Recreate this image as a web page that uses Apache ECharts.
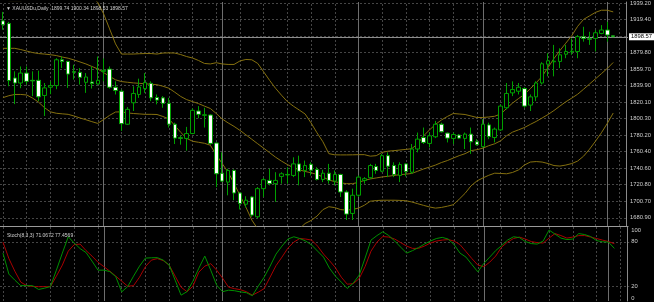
<!DOCTYPE html>
<html><head><meta charset="utf-8">
<script src="https://cdn.jsdelivr.net/npm/echarts@6/dist/echarts.min.js"></script>
<style>html,body{margin:0;padding:0;background:#000;}#c{width:654px;height:302px;}</style>
</head><body><div id="c"></div>
<script>
// ---- data ----
const symbolTitle = 'XAUUSDu,Daily';
const lastQuote = ['1899.74', '1900.34', '1898.53', '1898.57'];
const stochTitle = 'Stoch(8,3,3)';
const stochLast = ['71.0672', '77.4569'];

const tradingDays = [
  ['2021-01', '07 08 11 12 13 14 15 18 19 20 21 22 25 26 27 28 29'],
  ['2021-02', '01 02 03 04 05 08 09 10 11 12 15 16 17 18 19 22 23 24 25 26'],
  ['2021-03', '01 02 03 04 05 08 09 10 11 12 15 16 17 18 19 22 23 24 25 26 29 30 31'],
  ['2021-04', '01 05 06 07 08 09 12 13 14 15 16 19 20 21 22 23 26 27 28 29 30'],
  ['2021-05', '03 04 05 06 07 10 11 12 13 14 17 18 19 20 21 24 25 26 27 28 31'],
  ['2021-06', '01 02']
];
const categories = [];
tradingDays.forEach(([m, d]) => d.split(' ').forEach(x => categories.push(m + '-' + x)));
const futureSlots = ['2021-06-03', '2021-06-04'];

const open = [1917.7,1914.5,1849.0,1843.0,1854.9,1846.2,1846.2,1828.0,1837.9,1839.9,
 1870.9,1868.9,1856.6,1855.8,1843.8,1844.2,1841.8,1857.0,1859.7,1837.9,
 1833.1,1793.4,1819.2,1829.2,1836.3,1842.6,1825.6,1825.1,1818.5,1793.4,
 1777.1,1776.3,1782.2,1809.3,1804.1,1804.5,1770.8,1734.5,1723.8,1737.8,
 1710.7,1697.2,1705.9,1682.1,1715.9,1725.8,1721.9,1730.6,1733.0,1731.8,
 1745.7,1737.8,1745.3,1738.9,1727.0,1734.5,1725.0,1733.0,1711.9,1686.1,
 1708.0,1725.8,1729.1,1742.5,1736.9,1755.6,1743.7,1731.8,1745.7,1735.7,
 1763.6,1777.4,1770.3,1778.3,1793.4,1782.7,1776.3,1780.3,1776.3,1781.5,
 1772.3,1766.4,1792.6,1777.4,1786.6,1813.2,1831.1,1833.1,1836.3,1816.4,
 1826.3,1843.0,1865.6,1868.5,1868.9,1877.6,1880.4,1880.8,1898.7,1896.3,
 1896.6,1902.6,1906.7,1899.74];
const close = [1913.0,1845.9,1843.0,1854.9,1845.0,1845.5,1826.3,1837.1,1839.9,1870.9,
 1868.9,1853.7,1856.0,1849.8,1850.2,1842.3,1846.2,1858.2,1837.9,1833.9,
 1794.1,1811.3,1830.4,1838.2,1843.5,1825.1,1822.4,1818.5,1793.4,1776.7,
 1776.4,1782.2,1810.1,1805.3,1804.8,1770.3,1733.8,1725.0,1737.8,1710.7,
 1698.1,1702.0,1684.1,1715.9,1726.7,1721.9,1725.8,1733.8,1732.4,1745.7,
 1736.9,1743.7,1738.1,1727.0,1734.5,1725.8,1733.0,1711.9,1685.3,1708.0,
 1729.8,1727.9,1743.7,1737.8,1755.6,1742.9,1733.0,1744.9,1736.6,1763.6,
 1775.5,1771.5,1779.5,1793.4,1784.3,1776.7,1781.0,1776.7,1781.5,1772.3,
 1768.8,1793.4,1778.6,1787.5,1815.2,1830.4,1835.1,1837.9,1815.2,1826.3,
 1843.0,1866.1,1869.7,1869.2,1876.9,1880.8,1881.2,1898.7,1896.6,1895.7,
 1903.4,1906.7,1900.7,1898.57];
const high = [1928.5,1916.6,1857.0,1862.9,1862.9,1857.0,1857.8,1843.0,1845.0,1872.8,
 1874.8,1869.7,1864.9,1860.9,1854.9,1862.9,1874.8,1872.5,1862.9,1845.0,
 1835.1,1814.0,1839.1,1848.2,1854.9,1845.0,1829.2,1827.2,1825.1,1795.3,
 1779.5,1790.2,1812.5,1815.2,1813.2,1805.3,1771.5,1759.6,1739.8,1739.0,
 1711.9,1706.8,1706.8,1717.8,1729.1,1739.8,1735.7,1735.7,1741.7,1753.6,
 1755.6,1749.7,1747.6,1741.7,1738.6,1745.7,1737.8,1733.8,1713.9,1715.9,
 1731.8,1729.8,1745.7,1745.7,1757.7,1759.6,1747.6,1747.6,1746.5,1769.6,
 1783.4,1789.4,1783.4,1797.4,1795.3,1783.4,1783.4,1781.5,1783.4,1789.4,
 1775.5,1799.4,1795.3,1789.4,1817.3,1843.0,1845.0,1843.0,1837.9,1829.2,
 1845.0,1868.0,1878.8,1888.8,1884.7,1888.8,1896.6,1900.7,1910.6,1904.6,
 1906.7,1912.6,1916.6,1900.34];
const low = [1907.0,1839.1,1817.6,1836.7,1841.1,1827.2,1821.2,1803.3,1829.5,1835.5,
 1860.9,1837.1,1847.1,1841.1,1831.1,1836.3,1841.1,1845.0,1836.3,1829.2,
 1785.4,1792.6,1809.3,1825.1,1831.1,1821.2,1817.3,1813.2,1789.4,1769.6,
 1768.8,1761.6,1781.5,1800.6,1789.4,1768.8,1717.8,1723.8,1707.9,1702.0,
 1690.9,1693.3,1682.1,1680.2,1705.9,1719.9,1700.0,1721.9,1721.9,1729.8,
 1719.9,1729.8,1731.8,1725.8,1723.8,1721.9,1719.9,1705.9,1678.2,1678.2,
 1705.9,1721.9,1727.9,1733.8,1735.7,1729.8,1729.8,1723.8,1730.6,1733.8,
 1759.6,1769.6,1765.5,1776.7,1783.4,1771.5,1769.6,1775.5,1763.6,1757.7,
 1767.6,1765.5,1775.5,1771.5,1785.4,1811.3,1827.2,1829.2,1813.2,1809.3,
 1821.2,1841.1,1851.0,1851.0,1860.9,1872.8,1876.9,1872.8,1892.7,1888.8,
 1880.8,1901.6,1892.7,1898.53];

const bbUpper = [1944,1942,1942,1942,1943,1944,1946,1948,1950,1951,
 1952,1953,1953,1952,1950,1946,1940.0,1926.0,1908.0,1890.0,
 1877.8,1877.8,1877.8,1878.2,1878.4,1878.4,1877.8,1879.0,1879.2,1879.0,
 1877.2,1874.8,1873.0,1870.1,1866.5,1865.9,1867.4,1865.9,1865.3,1865.3,
 1869.5,1871.3,1870.9,1866.5,1856.4,1846.2,1836.7,1828.4,1820.6,1815.2,
 1810.5,1805.7,1795.0,1783.1,1772.3,1758.0,1756.6,1756.5,1756.5,1756.6,
 1756.8,1756.8,1755.0,1755.6,1759.6,1761.0,1761.6,1762.4,1763.1,1764.0,
 1769.9,1779.5,1786.6,1793.2,1798.5,1802.7,1806.3,1805.7,1805.1,1803.3,
 1801.5,1801.5,1802.1,1803.0,1805.7,1812.3,1818.8,1824.2,1829.2,1836.1,
 1843.3,1851.0,1861.7,1872.4,1882.0,1890.9,1899.9,1911.2,1919.5,1923.7,
 1927.9,1930.5,1930.5,1928.5];
const bbMiddle = [1884.7,1884.7,1884.7,1883.2,1881.4,1879.6,1878.4,1877.8,1877.0,1876.0,
 1874.2,1872.8,1870.7,1868.3,1865.9,1862.9,1859.9,1855.5,1851.0,1846.8,
 1844.7,1843.9,1843.1,1842.6,1842.0,1841.5,1840.9,1839.1,1836.7,1831.9,
 1826.8,1823.0,1820.6,1818.2,1815.2,1812.3,1806.3,1799.7,1795.0,1790.8,
 1786.0,1780.7,1775.3,1769.9,1764.6,1759.2,1753.8,1749.1,1744.9,1741.3,
 1738.6,1736.6,1735.0,1733.0,1730.0,1726.4,1724.3,1722.9,1721.9,1721.9,
 1723.5,1725.8,1727.6,1728.8,1730.0,1730.8,1731.8,1732.7,1733.3,1734.2,
 1736.9,1739.6,1741.9,1744.3,1747.3,1749.7,1752.7,1755.6,1758.0,1761.6,
 1762.8,1764.6,1767.6,1769.9,1773.5,1779.5,1783.9,1786.6,1789.4,1793.2,
 1796.8,1800.9,1805.1,1809.9,1815.2,1820.4,1824.8,1829.5,1835.5,1841.8,
 1848.0,1854.2,1860.5,1867.7];
const bbLower = [1825.4,1827.7,1829.2,1829.2,1828.6,1824.8,1820.0,1813.4,1808.3,1806.6,
 1805.9,1805.3,1803.3,1800.9,1798.8,1796.5,1794.4,1799.1,1804.1,1808.1,
 1808.3,1807.0,1806.3,1805.8,1805.3,1805.3,1805.1,1802.7,1799.7,1792.0,
 1783.6,1776.5,1772.9,1771.7,1770.5,1768.1,1756.8,1746.1,1735.6,1722.3,
 1707.9,1693.7,1678.2,1667.4,1662.7,1659.1,1656.7,1656.1,1657.9,1661.5,
 1667.4,1674.0,1677.6,1682.9,1690.7,1694.2,1693.1,1690.7,1690.1,1690.9,
 1692.5,1696.0,1700.8,1701.6,1702.0,1702.0,1702.0,1701.8,1701.4,1699.9,
 1697.8,1695.8,1693.9,1692.5,1693.3,1694.8,1696.6,1703.2,1710.3,1719.3,
 1725.2,1728.8,1732.0,1734.5,1734.2,1733.8,1735.4,1738.4,1744.3,1747.9,
 1748.5,1747.9,1746.1,1743.7,1743.1,1744.3,1746.1,1749.1,1755.0,1763.4,
 1772.9,1783.1,1794.4,1806.9];

const stochMain = [64.7,36.3,28.2,20.7,20.7,20.7,15.6,17.3,19.6,41.7,
 64.7,86.8,78.3,70.8,65.4,53.9,41.7,41.7,39.7,32.9,
 12.3,19.4,33.6,47.1,58.0,58.4,58.6,55.2,48.5,28.2,
 7.9,12.6,26.8,44.4,60.7,41.7,21.4,12.6,14.6,13.9,
 12.3,11.2,7.2,20.0,32.2,47.1,63.4,74.2,83.7,86.8,
 84.4,81.0,75.6,67.4,59.3,44.4,33.6,25.5,16.9,24.1,
 34.9,58.0,82.3,88.4,93.6,88.4,81.0,72.8,64.7,68.1,
 72.2,76.9,81.0,84.4,86.0,83.7,76.2,64.7,59.3,49.2,
 39.4,50.8,59.3,68.1,74.9,82.3,86.8,85.7,80.3,77.6,
 76.9,81.0,95.9,90.4,85.0,83.0,83.7,91.1,89.8,87.1,
 81.6,80.0,79.6,71.0672];
const stochSignal = [79.6,57.3,40.3,25.5,20.7,19.6,19.4,19.4,19.4,33.6,
 48.5,67.4,76.2,76.9,68.1,60.7,52.5,46.4,40.3,33.6,
 26.8,20.0,20.7,32.2,46.4,55.2,57.3,54.6,48.5,33.6,
 18.7,12.6,20.0,39.0,47.1,50.5,41.7,30.9,18.7,16.7,
 15.3,12.6,7.9,11.9,16.7,32.2,47.8,59.3,71.5,79.6,
 84.4,83.7,82.3,74.2,63.4,54.6,45.1,32.2,22.7,23.4,
 30.2,46.4,67.4,79.6,87.1,86.4,83.7,78.9,74.2,71.1,
 71.1,74.2,78.3,81.0,82.3,83.0,81.0,76.2,66.8,57.3,
 48.5,46.4,52.5,60.7,72.8,79.6,84.4,86.4,83.7,80.3,
 78.9,78.3,85.0,91.1,88.4,85.0,86.4,88.4,88.4,86.4,
 84.4,82.3,80.3,77.4569];

const priceTicks = ['1939.20','1919.40','1879.80','1859.70','1839.90','1820.10','1800.30',
 '1780.20','1760.40','1740.60','1720.80','1700.70','1680.90'];
const priceGrid = ['1939.20','1919.40','1899.60','1879.80','1859.70','1839.90','1820.10','1800.30',
 '1780.20','1760.40','1740.60','1720.80','1700.70','1680.90'];
const stochTicks = ['0','20','80','100'];
const stochLevels = ['20','80'];

// ---- chart ----
const xCats = categories.concat(futureSlots);
const gridStep = 4;
const vGrid = [];
for (let i = 0; i < xCats.length; i += gridStep) vGrid.push(i);
const separators = [];
for (let i = 1; i < categories.length; i++) {
  if (categories[i].slice(0, 7) !== categories[i - 1].slice(0, 7)) separators.push(i);
}

const GREEN = '#00a000';
const BAND = '#85700f';
const GRIDC = '#454545';
const TXT = '#cfcfcf';
const FONT = 'Liberation Sans, Arial, sans-serif';

function vLines() {
  return vGrid.map(i => ({ xAxis: i, lineStyle: { color: GRIDC, type: [2, 2], width: 1 } }))
    .concat(separators.map(i => ({ xAxis: i, lineStyle: { color: '#6e6e6e', type: 'solid', width: 1 } })));
}

const chart = echarts.init(document.getElementById('c'), null, { renderer: 'canvas' });
const option = {
  animation: false,
  backgroundColor: '#000',
  title: [
    { text: '\u25BC ' + symbolTitle + '  ' + lastQuote.join(' '), left: 1, top: 1,
      textStyle: { color: TXT, fontSize: 5, fontWeight: 'normal', fontFamily: FONT } },
    { text: stochTitle + ' ' + stochLast.join(' '), left: 2, top: 228,
      textStyle: { color: TXT, fontSize: 5, fontWeight: 'normal', fontFamily: FONT } }
  ],
  grid: [
    { left: -1.98, top: 0, width: 631.2, height: 226 },
    { left: -1.98, top: 227, width: 631.2, height: 74 }
  ],
  xAxis: [
    { type: 'category', gridIndex: 0, data: xCats, boundaryGap: true,
      axisLine: { show: true, lineStyle: { color: '#9a9a9a' } },
      axisTick: { show: false }, axisLabel: { show: false }, splitLine: { show: false } },
    { type: 'category', gridIndex: 1, data: xCats, boundaryGap: true,
      axisLine: { show: false }, axisTick: { show: false }, axisLabel: { show: false }, splitLine: { show: false } }
  ],
  yAxis: [
    { type: 'value', gridIndex: 0, position: 'right', min: 1671.0, max: 1940.4, offset: -2,
      axisLine: { show: true, lineStyle: { color: '#8a8a8a' } },
      axisTick: { show: false, customValues: priceGrid.map(Number) },
      axisLabel: { customValues: priceTicks.map(Number), formatter: v => v.toFixed(2),
        color: TXT, fontSize: 5.8, margin: 4, fontFamily: FONT },
      splitLine: { show: true, lineStyle: { color: GRIDC, type: [2, 2], width: 1 } } },
    { type: 'value', gridIndex: 1, position: 'right', min: 0, max: 100, offset: -2,
      axisLine: { show: true, lineStyle: { color: '#8a8a8a' } },
      axisTick: { show: false, customValues: stochLevels.map(Number) },
      axisLabel: { customValues: stochTicks.map(Number), color: TXT, fontSize: 5.8, margin: 4,
        fontFamily: FONT, verticalAlignMinLabel: 'bottom', verticalAlignMaxLabel: 'top' },
      splitLine: { show: true, lineStyle: { color: GRIDC, type: [2, 2], width: 1 } } }
  ],
  series: [
    { type: 'line', xAxisIndex: 0, yAxisIndex: 0, data: [], z: 0, silent: true,
      markLine: { z: 0, silent: true, symbol: 'none', label: { show: false }, animation: false, data: vLines() } },
    { type: 'line', xAxisIndex: 1, yAxisIndex: 1, data: [], z: 0, silent: true,
      markLine: { z: 0, silent: true, symbol: 'none', label: { show: false }, animation: false, data: vLines() } },
    { type: 'line', name: 'upper', xAxisIndex: 0, yAxisIndex: 0, data: bbUpper, symbol: 'none', z: 2,
      lineStyle: { color: BAND, width: 1 }, clip: true, silent: true },
    { type: 'line', name: 'middle', xAxisIndex: 0, yAxisIndex: 0, data: bbMiddle, symbol: 'none', z: 2,
      lineStyle: { color: BAND, width: 1 }, clip: true, silent: true },
    { type: 'line', name: 'lower', xAxisIndex: 0, yAxisIndex: 0, data: bbLower, symbol: 'none', z: 2,
      lineStyle: { color: BAND, width: 1 }, clip: true, silent: true },
    { type: 'candlestick', xAxisIndex: 0, yAxisIndex: 0, z: 4, barWidth: 4, clip: true,
      data: open.map((o, i) => [o, close[i], low[i], high[i]]),
      itemStyle: { color: '#000', color0: '#fff', borderColor: GREEN, borderColor0: GREEN, borderWidth: 1 },
      markLine: { z: 1, silent: true, symbol: 'none', animation: false,
        data: [{ yAxis: Number(lastQuote[3]) }],
        lineStyle: { color: '#8c8c8c', type: 'solid', width: 1 },
        label: { show: true, position: 'end', distance: 1, formatter: () => lastQuote[3],
          backgroundColor: '#fff', color: '#000', fontSize: 5.8, fontFamily: FONT, padding: [1, 2, 0, 2] } } },
    { type: 'line', name: 'main', xAxisIndex: 1, yAxisIndex: 1, data: stochMain, symbol: 'none', z: 3,
      lineStyle: { color: '#009000', width: 1 }, silent: true },
    { type: 'line', name: 'signal', xAxisIndex: 1, yAxisIndex: 1, data: stochSignal, symbol: 'none', z: 2,
      lineStyle: { color: '#a80000', width: 1 }, silent: true }
  ]
};
chart.setOption(option);
</script>
</body></html>
